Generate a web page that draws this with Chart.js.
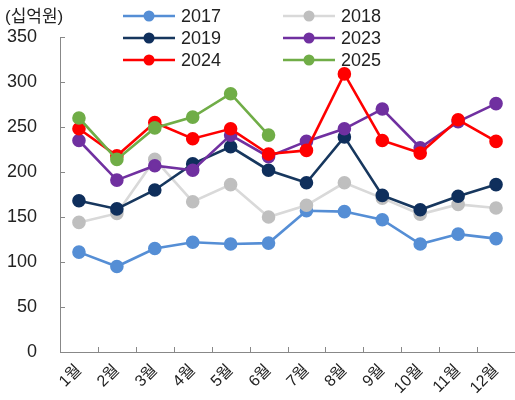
<!DOCTYPE html>
<html>
<head>
<meta charset="utf-8">
<script src="https://cdn.jsdelivr.net/npm/chart.js@4"></script>
<style>
  html, body { margin: 0; padding: 0; background: #fff; }
  #wrap { position: relative; width: 515px; height: 400px; }
</style>
</head>
<body>
<div id="wrap"><canvas id="c" width="515" height="400"></canvas></div>
<script>
// monthly values, 십억원
const MONTHS = ['1월', '2월', '3월', '4월', '5월', '6월', '7월', '8월', '9월', '10월', '11월', '12월'];
const Y_TICKS = [0, 50, 100, 150, 200, 250, 300, 350];

const S2017 = [111, 95, 115, 122, 120, 121, 157, 156, 147, 120, 131, 126];
const S2018 = [144, 154, 214, 167, 186, 150, 163, 188, 171, 153, 164, 160];
const S2019 = [168, 159, 180, 209, 228, 202, 188, 239, 174, 158, 173, 186];
const S2023 = [235, 191, 207, 202, 241, 217, 234, 248, 270, 227, 256, 276];
const S2024 = [248, 218, 255, 237, 248, 220, 224, 309, 235, 221, 258, 234];
const S2025 = [260, 214, 249, 261, 287, 241];

const FONT = "'Liberation Sans', Arial, 'Noto Sans CJK KR', sans-serif";

function series(label, data, line, point, order) {
    return {
        label, data,
        borderColor: line, backgroundColor: point,
        pointBackgroundColor: point, pointBorderColor: point,
        borderWidth: 2.6, pointRadius: 5.5, pointHoverRadius: 5.5,
        tension: 0, order, clip: false
    };
}

// legend + unit label + inward tick marks
const decor = {
    id: 'decor',
    afterDraw(chart) {
        const ctx = chart.ctx;
        const area = chart.chartArea;
        const x = chart.scales.x, y = chart.scales.y;
        ctx.save();
        ctx.strokeStyle = '#888';
        ctx.lineWidth = 1;
        Y_TICKS.forEach(v => {
            if (v === 0) return;
            const py = Math.round(y.getPixelForValue(v)) + 0.5;
            ctx.beginPath(); ctx.moveTo(area.left, py); ctx.lineTo(area.left + 5, py); ctx.stroke();
        });
        for (let i = 1; i <= MONTHS.length; i++) {
            const px = Math.round(x.getPixelForValue(i - 0.5)) + 0.5;
            ctx.beginPath(); ctx.moveTo(px, area.bottom); ctx.lineTo(px, area.bottom - 5); ctx.stroke();
        }

        ctx.fillStyle = '#222';
        ctx.font = '17px ' + FONT;
        ctx.textBaseline = 'middle';
        ctx.textAlign = 'left';
        ctx.fillText('(십억원)', 5, 17);

        const cols = [123, 283], rows = [16, 38, 60];
        chart.data.datasets.forEach((ds, i) => {
            const lx = cols[i % 2], ly = rows[Math.floor(i / 2)];
            ctx.strokeStyle = ds.borderColor;
            ctx.lineWidth = 2.6;
            ctx.beginPath(); ctx.moveTo(lx, ly); ctx.lineTo(lx + 52, ly); ctx.stroke();
            ctx.fillStyle = ds.pointBackgroundColor;
            ctx.beginPath(); ctx.arc(lx + 26, ly, 5.5, 0, Math.PI * 2); ctx.fill();
            ctx.fillStyle = '#222';
            ctx.font = '18px ' + FONT;
            ctx.fillText(ds.label, lx + 58, ly + 1);
        });
        ctx.restore();
    }
};

new Chart(document.getElementById('c'), {
    type: 'line',
    data: {
        labels: MONTHS,
        datasets: [
            series('2017', S2017, '#558ED5', '#558ED5', 5),
            series('2018', S2018, '#D9D9D9', '#BFBFBF', 4),
            series('2019', S2019, '#17375E', '#0F2F5C', 3),
            series('2023', S2023, '#7030A0', '#7030A0', 2),
            series('2024', S2024, '#FF0000', '#FF0000', 1),
            series('2025', S2025, '#70AD47', '#70AD47', 0)
        ]
    },
    options: {
        responsive: false,
        animation: false,
        layout: { autoPadding: false, padding: { top: 37, right: 0, bottom: 0, left: 0 } },
        plugins: { legend: { display: false }, tooltip: { enabled: false } },
        scales: {
            x: {
                offset: true,
                grid: { display: false, drawTicks: false },
                border: { display: true, color: '#888', width: 1 },
                ticks: {
                    color: '#222', font: { family: FONT, size: 16 },
                    maxRotation: 45, minRotation: 45, padding: 9, autoSkip: false
                },
                afterFit(s) { s.height = 48; s.paddingRight = 0; }
            },
            y: {
                min: 0, max: 350,
                grid: { display: false, drawTicks: false },
                border: { display: true, color: '#888', width: 1 },
                ticks: {
                    stepSize: 50, color: '#222', font: { family: FONT, size: 18 }, padding: 23
                },
                afterFit(s) { s.width = 60; }
            }
        }
    },
    plugins: [decor]
});
</script>
</body>
</html>
